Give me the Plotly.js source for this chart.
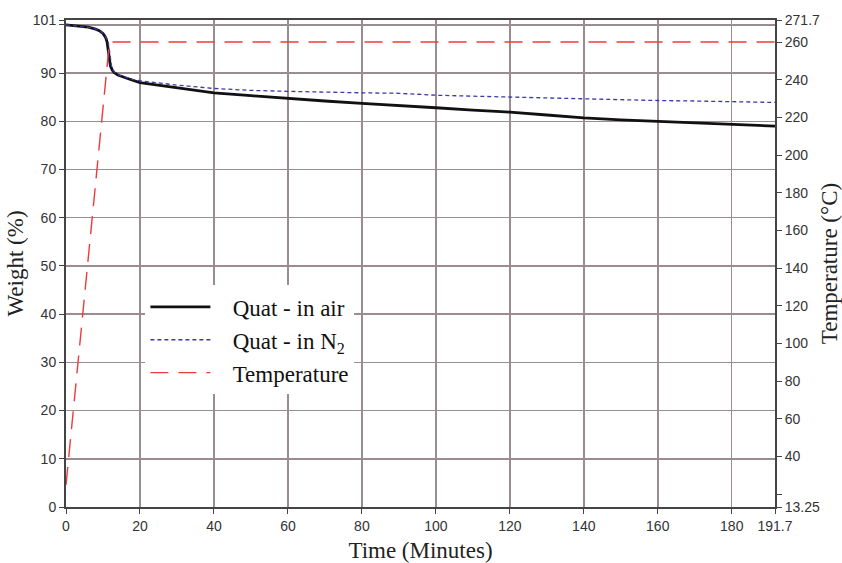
<!DOCTYPE html>
<html>
<head>
<meta charset="utf-8">
<script src="https://cdn.plot.ly/plotly-3.0.1.min.js"></script>
<style>html,body{margin:0;padding:0;background:#fff;}#chart{width:842px;height:563px;}</style>
</head>
<body>
<div id="chart"></div>
<script>
// Time (minutes) and weight (%) for Quat in air
const airTime = [0, 3, 6, 8, 9, 10, 10.7, 11.1, 11.4, 11.7, 12.0, 12.5, 13, 14, 16, 18, 20, 30, 40, 50, 60, 70, 80, 90, 100, 110, 120, 130, 140, 150, 160, 170, 180, 191.7];
const airWeight = [100.0, 99.8, 99.5, 99.1, 98.8, 98.2, 97.4, 96.5, 94.5, 92.5, 91.5, 90.6, 90.1, 89.6, 89.0, 88.5, 88.0, 86.9, 85.9, 85.3, 84.7, 84.2, 83.7, 83.3, 82.8, 82.3, 81.9, 81.3, 80.7, 80.3, 80.0, 79.7, 79.4, 79.0];

// Time (minutes) and weight (%) for Quat in N2
const n2Time = [0, 3, 6, 8, 9, 10, 10.8, 11.3, 11.7, 12.0, 12.3, 12.8, 13.5, 14.5, 16, 18, 20, 30, 40, 50, 60, 70, 80, 90, 100, 110, 120, 130, 140, 150, 160, 170, 180, 191.7];
const n2Weight = [100.0, 99.8, 99.5, 99.1, 98.8, 98.3, 97.5, 96.8, 95.0, 93.0, 91.5, 90.5, 89.9, 89.5, 89.1, 88.7, 88.4, 87.5, 86.8, 86.4, 86.2, 86.0, 85.9, 85.8, 85.4, 85.2, 85.0, 84.8, 84.7, 84.5, 84.3, 84.2, 84.1, 83.9];

// Temperature program (°C)
const tempTime = [0, 11.75, 191.7];
const tempValue = [25, 260, 260];

// Axis ticks
const xTicks = [0, 20, 40, 60, 80, 100, 120, 140, 160, 180, 191.7];
const yTicks = [0, 10, 20, 30, 40, 50, 60, 70, 80, 90, 101];
const yUnlabelled = [100];
const y2Ticks = [13.25, 40, 60, 80, 100, 120, 140, 160, 180, 200, 220, 240, 260, 271.7];
const y2Unlabelled = [20];

const pad = '\u00a0\u00a0\u00a0';
const traces = [
  {x: airTime, y: airWeight, name: pad + 'Quat - in air', type: 'scatter', mode: 'lines',
   line: {color: '#111111', width: 2.8}},
  {x: n2Time, y: n2Weight, name: pad + 'Quat - in N<sub>2</sub>', type: 'scatter', mode: 'lines',
   line: {color: '#3a3aa8', width: 1.3, dash: '4px,3px'}},
  {x: tempTime, y: tempValue, name: pad + 'Temperature', type: 'scatter', mode: 'lines', yaxis: 'y2',
   line: {color: '#ee3a3a', width: 1.4, dash: '18px,10px'}}
];

const tickFont = {family: 'Liberation Sans, Arial, sans-serif', size: 14, color: '#333'};
const titleFont = {family: 'Liberation Serif, Times New Roman, serif', size: 23, color: '#222'};
const gridColor = '#9a8c91';

const layout = {
  width: 842, height: 563,
  margin: {l: 66, r: 67, t: 20, b: 56},
  paper_bgcolor: '#fff', plot_bgcolor: '#fff',
  showlegend: true,
  legend: {
    x: 0.112, y: 0.455, xanchor: 'left', yanchor: 'top',
    bgcolor: '#fff', borderwidth: 0,
    font: {family: 'Liberation Serif, Times New Roman, serif', size: 23, color: '#111'},
    itemwidth: 60, tracegroupgap: 7
  },
  xaxis: {
    range: [0, 191.7], tickmode: 'array', tickvals: xTicks,
    ticktext: xTicks.map(String),
    showgrid: true, gridcolor: gridColor, gridwidth: 1.5,
    showline: true, linecolor: '#444', linewidth: 2, mirror: true,
    ticks: 'outside', ticklen: 5, tickcolor: '#444',
    zeroline: false, tickfont: tickFont,
    title: {text: 'Time (Minutes)', font: titleFont, standoff: 9}
  },
  yaxis: {
    range: [0, 101], tickmode: 'array', tickvals: yTicks,
    ticktext: yTicks.map(String),
    showgrid: true, gridcolor: gridColor, gridwidth: 1.5,
    minor: {tickmode: 'array', tickvals: yUnlabelled, ticks: 'outside', ticklen: 5,
            tickcolor: '#444', showgrid: true, gridcolor: gridColor, gridwidth: 1.5},
    showline: true, linecolor: '#444', linewidth: 2,
    ticks: 'outside', ticklen: 5, tickcolor: '#444',
    zeroline: false, tickfont: tickFont,
    title: {text: 'Weight (%)', font: titleFont, standoff: 3}
  },
  yaxis2: {
    overlaying: 'y', side: 'right',
    range: [13.25, 271.7], tickmode: 'array', tickvals: y2Ticks,
    ticktext: y2Ticks.map(String),
    minor: {tickmode: 'array', tickvals: y2Unlabelled, ticks: 'outside', ticklen: 5,
            tickcolor: '#444', showgrid: false},
    showgrid: false, showline: true, linecolor: '#444', linewidth: 2,
    ticks: 'outside', ticklen: 5, tickcolor: '#444',
    zeroline: false, tickfont: tickFont,
    title: {text: 'Temperature (°C)', font: titleFont, standoff: 8}
  }
};

Plotly.newPlot('chart', traces, layout, {staticPlot: true, displayModeBar: false});
</script>
</body>
</html>
